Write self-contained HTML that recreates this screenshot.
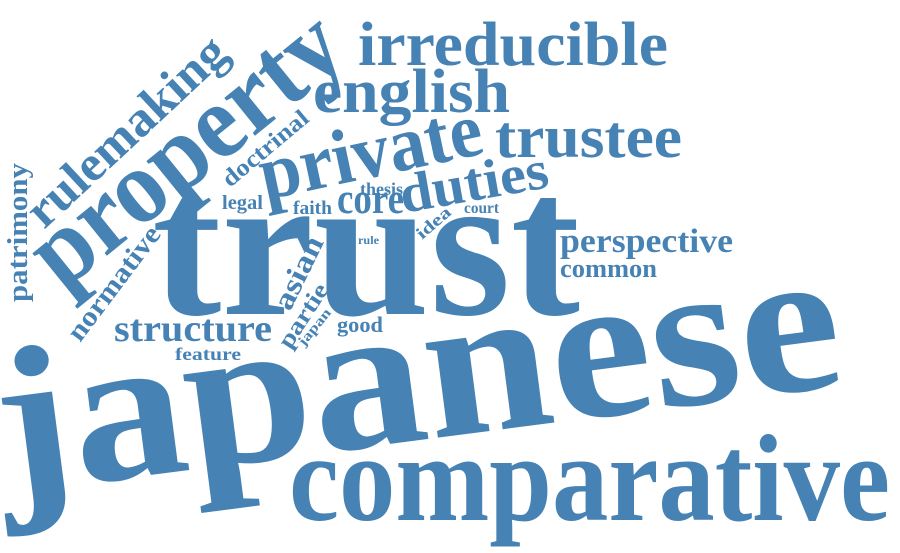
<!DOCTYPE html>
<html><head><meta charset="utf-8"><style>
html,body{margin:0;padding:0;background:#fff;}
svg{display:block;}
text{font-family:"Liberation Serif",serif;font-weight:bold;fill:#4682b4;}
</style></head><body>
<svg width="900" height="553" viewBox="0 0 900 553">
<text transform="translate(4,494) rotate(-7.4)" font-size="208" textLength="850" lengthAdjust="spacingAndGlyphs">japanese</text>
<text x="152" y="314" font-size="206" textLength="428" lengthAdjust="spacingAndGlyphs">trust</text>
<text x="289" y="520" font-size="124" textLength="601" lengthAdjust="spacingAndGlyphs">comparative</text>
<text transform="translate(62,292) rotate(-39)" font-size="106" textLength="372" lengthAdjust="spacingAndGlyphs">property</text>
<text transform="translate(44,230) rotate(-43)" font-size="50" textLength="255" lengthAdjust="spacingAndGlyphs">rulemaking</text>
<text x="358" y="65" font-size="62" textLength="310" lengthAdjust="spacingAndGlyphs">irreducible</text>
<text x="313" y="112" font-size="62" textLength="197" lengthAdjust="spacingAndGlyphs">english</text>
<text x="495" y="157" font-size="60" textLength="187" lengthAdjust="spacingAndGlyphs">trustee</text>
<text transform="translate(265,200) rotate(-12)" font-size="78" textLength="226" lengthAdjust="spacingAndGlyphs">private</text>
<text transform="translate(403,213) rotate(-10)" font-size="55" textLength="150" lengthAdjust="spacingAndGlyphs">duties</text>
<text x="337" y="213" font-size="43" textLength="67" lengthAdjust="spacingAndGlyphs">core</text>
<text x="360" y="195" font-size="18" textLength="43" lengthAdjust="spacingAndGlyphs">thesis</text>
<text x="293" y="214" font-size="19" textLength="39" lengthAdjust="spacingAndGlyphs">faith</text>
<text x="222" y="209" font-size="20" textLength="41" lengthAdjust="spacingAndGlyphs">legal</text>
<text x="464" y="213" font-size="16" textLength="35" lengthAdjust="spacingAndGlyphs">court</text>
<text transform="translate(422,240) rotate(-41)" font-size="17" textLength="40" lengthAdjust="spacingAndGlyphs">idea</text>
<text x="358" y="244" font-size="12" textLength="21" lengthAdjust="spacingAndGlyphs">rule</text>
<text x="560" y="252" font-size="34" textLength="173" lengthAdjust="spacingAndGlyphs">perspective</text>
<text x="560" y="277" font-size="26" textLength="97" lengthAdjust="spacingAndGlyphs">common</text>
<text x="337" y="332" font-size="22" textLength="46" lengthAdjust="spacingAndGlyphs">good</text>
<text transform="translate(290,312) rotate(-64)" font-size="30" textLength="78" lengthAdjust="spacingAndGlyphs">asian</text>
<text transform="translate(290,350) rotate(-57)" font-size="24" textLength="72" lengthAdjust="spacingAndGlyphs">partie</text>
<text transform="translate(304,347) rotate(-51)" font-size="14" textLength="44" lengthAdjust="spacingAndGlyphs">japan</text>
<text x="114" y="341" font-size="38" textLength="158" lengthAdjust="spacingAndGlyphs">structure</text>
<text x="175" y="360" font-size="18" textLength="66" lengthAdjust="spacingAndGlyphs">feature</text>
<text transform="translate(80,343) rotate(-53)" font-size="28" textLength="136" lengthAdjust="spacingAndGlyphs">normative</text>
<text transform="translate(27,302) rotate(-90)" font-size="29" textLength="139" lengthAdjust="spacingAndGlyphs">patrimony</text>
<text transform="translate(230,188) rotate(-40)" font-size="24" textLength="105" lengthAdjust="spacingAndGlyphs">doctrinal</text>
</svg>
</body></html>
